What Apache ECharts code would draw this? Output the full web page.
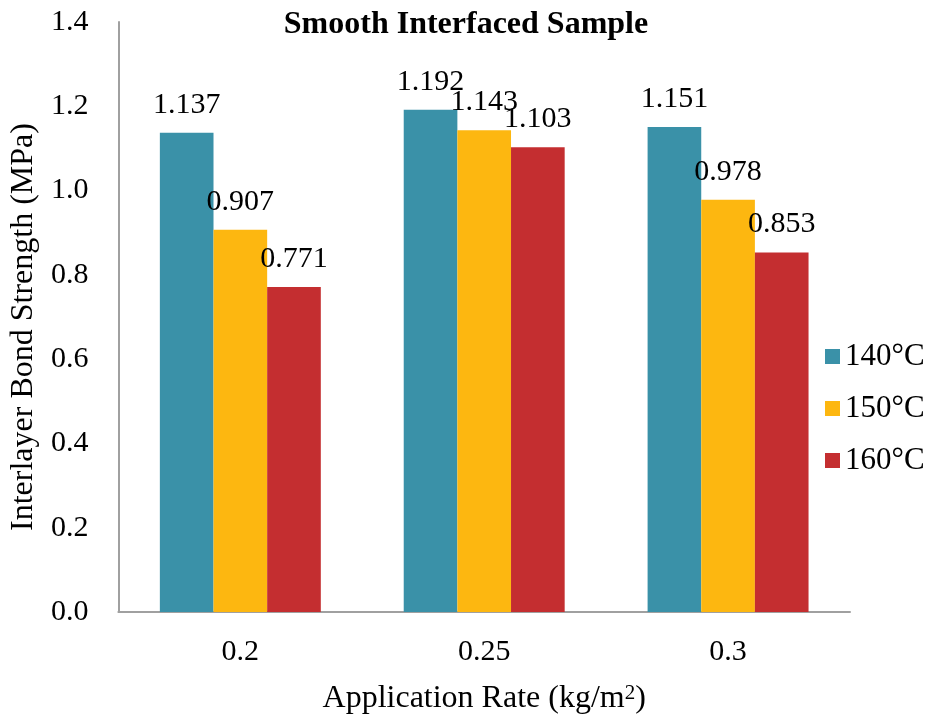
<!DOCTYPE html>
<html>
<head>
<meta charset="utf-8">
<script src="https://cdn.jsdelivr.net/npm/echarts@6/dist/echarts.min.js"></script>
<style>html,body{margin:0;padding:0;background:#fff}#c{width:931px;height:722px}</style>
</head>
<body>
<div id="c"></div>
<script>
const categories = ['0.2', '0.25', '0.3'];
const seriesNames = ['140°C', '150°C', '160°C'];
const s140 = [1.137, 1.192, 1.151];
const s150 = [0.907, 1.143, 0.978];
const s160 = [0.771, 1.103, 0.853];
const colors = ['#3a91a8', '#fdb710', '#c42e30'];
const FONT = '"Liberation Serif", "Times New Roman", serif';

const chart = echarts.init(document.getElementById('c'), null, {renderer: 'canvas'});
const values = [s140, s150, s160];
const series = seriesNames.map((n, i) => ({
  name: n,
  type: 'bar',
  data: values[i],
  barGap: '0%',
  barCategoryGap: '34%',
  itemStyle: {color: colors[i]},
  label: {
    show: true,
    position: 'top',
    distance: 13,
    formatter: p => p.value.toFixed(3),
    fontFamily: FONT,
    fontSize: 30,
    color: '#000'
  }
}));
chart.setOption({
  animation: false,
  backgroundColor: '#fff',
  title: {
    text: 'Smooth Interfaced Sample',
    left: 461, top: 4, textAlign: 'center',
    textStyle: {fontFamily: FONT, fontSize: 32, fontWeight: 'bold', color: '#000'}
  },
  legend: {
    orient: 'vertical',
    left: 820, top: 336,
    itemWidth: 15, itemHeight: 15, itemGap: 21,
    icon: 'rect',
    data: seriesNames,
    textStyle: {fontFamily: FONT, fontSize: 31, color: '#000'}
  },
  grid: {left: 118, right: 81, top: 22, bottom: 110},
  xAxis: {
    type: 'category',
    data: categories,
    name: 'Application Rate (kg/m{sup|2})',
    nameLocation: 'middle',
    nameGap: 71,
    nameTextStyle: {
      fontFamily: FONT, fontSize: 32, color: '#000',
      rich: {sup: {fontFamily: FONT, fontSize: 21, color: '#000', verticalAlign: 'top', padding: [0, 0, 10, 0]}}
    },
    axisLine: {lineStyle: {color: '#a0a0a0', width: 2}},
    axisTick: {show: false},
    axisLabel: {fontFamily: FONT, fontSize: 30, color: '#000', margin: 25}
  },
  yAxis: {
    type: 'value',
    min: 0, max: 1.4, interval: 0.2,
    name: 'Interlayer Bond Strength (MPa)',
    nameLocation: 'middle',
    nameGap: 78,
    nameTextStyle: {fontFamily: FONT, fontSize: 32, color: '#000', padding: [0, 20, 0, 0]},
    axisLine: {show: true, lineStyle: {color: '#a0a0a0', width: 2}},
    axisTick: {show: false},
    splitLine: {show: false},
    axisLabel: {fontFamily: FONT, fontSize: 30, color: '#000', margin: 30, formatter: v => v.toFixed(1)}
  },
  series: series
});
</script>
</body>
</html>
